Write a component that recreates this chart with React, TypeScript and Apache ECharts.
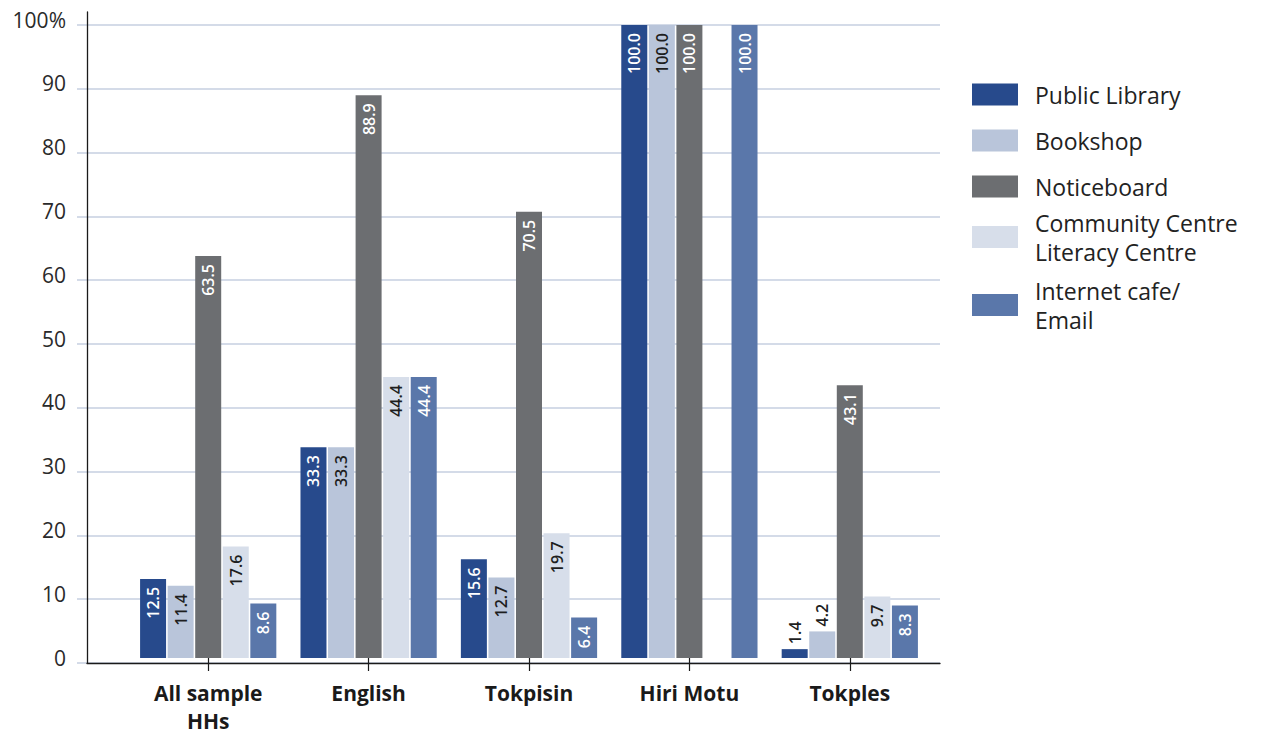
import React, { useEffect, useRef } from "react";
import * as echarts from "echarts";

const categories = ["All sample\nHHs", "English", "Tokpisin", "Hiri Motu", "Tokples"];
const seriesNames = [
  "Public Library",
  "Bookshop",
  "Noticeboard",
  "Community Centre\nLiteracy Centre",
  "Internet cafe/\nEmail",
];
const publicLibrary = [12.5, 33.3, 15.6, 100.0, 1.4];
const bookshop = [11.4, 33.3, 12.7, 100.0, 4.2];
const noticeboard = [63.5, 88.9, 70.5, 100.0, 43.1];
const community = [17.6, 44.4, 19.7, null, 9.7];
const internet = [8.6, 44.4, 6.4, 100.0, 8.3];
const yTicks = [0, 100, 10];

const colors = ["#274a8c", "#b9c5da", "#6c6e71", "#d7deea", "#5a77aa"];
const labelColors = ["#ffffff", "#1e1e1e", "#ffffff", "#1e1e1e", "#ffffff"];
const legendTops = [75, 121, 167, 203, 271];
const FONT = "'Open Sans', 'Noto Sans', sans-serif";

export default function App() {
  const ref = useRef<HTMLDivElement>(null);
  useEffect(() => {
    if (!ref.current) return;
    const chart = echarts.init(ref.current, undefined, { renderer: "svg" });
    const allData = [publicLibrary, bookshop, noticeboard, community, internet];
    const series: any[] = allData.map((arr, i) => ({
      name: seriesNames[i],
      type: "bar",
      xAxisIndex: 0,
      yAxisIndex: 0,
      barWidth: 26,
      barGap: "6%",
      itemStyle: { color: colors[i] },
      label: {
        show: true,
        position: "insideTop",
        rotate: 90,
        align: "right",
        verticalAlign: "middle",
        distance: 8,
        color: labelColors[i],
        fontSize: 16,
        fontWeight: 600,
        fontFamily: FONT,
        formatter: (p: any) => (p.value == null ? "" : Number(p.value).toFixed(1)),
      },
      data: arr.map((v) =>
        v != null && v < 5
          ? {
              value: v,
              label: { position: "top", align: "left", color: "#1e1e1e", distance: 5 },
            }
          : v
      ),
    }));

    const legends = seriesNames.map((n, i) => ({
      data: [n],
      left: 967,
      top: legendTops[i],
      orient: "vertical",
      icon: "rect",
      itemWidth: 46,
      itemHeight: 22,
      selectedMode: false,
      textStyle: {
        fontSize: 23,
        lineHeight: 29,
        color: "#222",
        fontFamily: FONT,
        padding: [0, 0, 0, 12],
      },
    }));

    chart.setOption({
      animation: false,
      backgroundColor: "#ffffff",
      legend: legends,
      grid: [
        { left: 128, right: 343, top: 25, bottom: 72 },
        { left: 87, right: 333, top: 12, bottom: 72 },
        { left: 77, right: 333, top: 25, bottom: 72 },
      ],
      xAxis: [
        {
          type: "category",
          gridIndex: 0,
          data: categories,
          axisLine: { show: false },
          axisTick: { show: true, alignWithLabel: true, length: 13, lineStyle: { color: "#1a1a1a", width: 1.2 } },
          axisLabel: {
            margin: 21,
            fontSize: 21,
            fontWeight: "bold",
            lineHeight: 28,
            color: "#1a1a1a",
            fontFamily: FONT,
          },
        },
        {
          type: "value",
          gridIndex: 1,
          axisLine: { show: true, onZero: false, lineStyle: { color: "#1a1a1a", width: 1.3 } },
          axisTick: { show: false },
          axisLabel: { show: false },
          splitLine: { show: false },
        },
        {
          type: "value",
          gridIndex: 2,
          show: false,
        },
      ],
      yAxis: [
        {
          type: "value",
          gridIndex: 0,
          min: yTicks[0],
          max: yTicks[1],
          interval: yTicks[2],
          show: false,
          splitLine: { show: false },
        },
        {
          type: "value",
          gridIndex: 1,
          axisLine: { show: true, lineStyle: { color: "#1a1a1a", width: 1.3 } },
          axisTick: { show: false },
          axisLabel: { show: false },
          splitLine: { show: false },
        },
        {
          type: "value",
          gridIndex: 2,
          min: yTicks[0],
          max: yTicks[1],
          interval: yTicks[2],
          axisLine: { show: false },
          axisTick: { show: false },
          splitLine: { show: true, lineStyle: { color: "#c6cfe0", width: 1.5 } },
          axisLabel: {
            margin: 11,
            fontSize: 21,
            color: "#2a2a2a",
            fontFamily: FONT,
            verticalAlign: "bottom",
            padding: [0, 0, -5, 0],
            formatter: (v: number) => (v === 100 ? "100%" : String(v)),
          },
        },
      ],
      series,
    });
    return () => chart.dispose();
  }, []);
  return (
    <div
      ref={ref}
      style={{ position: "fixed", left: 0, top: 0, width: 1273, height: 735 }}
    />
  );
}
